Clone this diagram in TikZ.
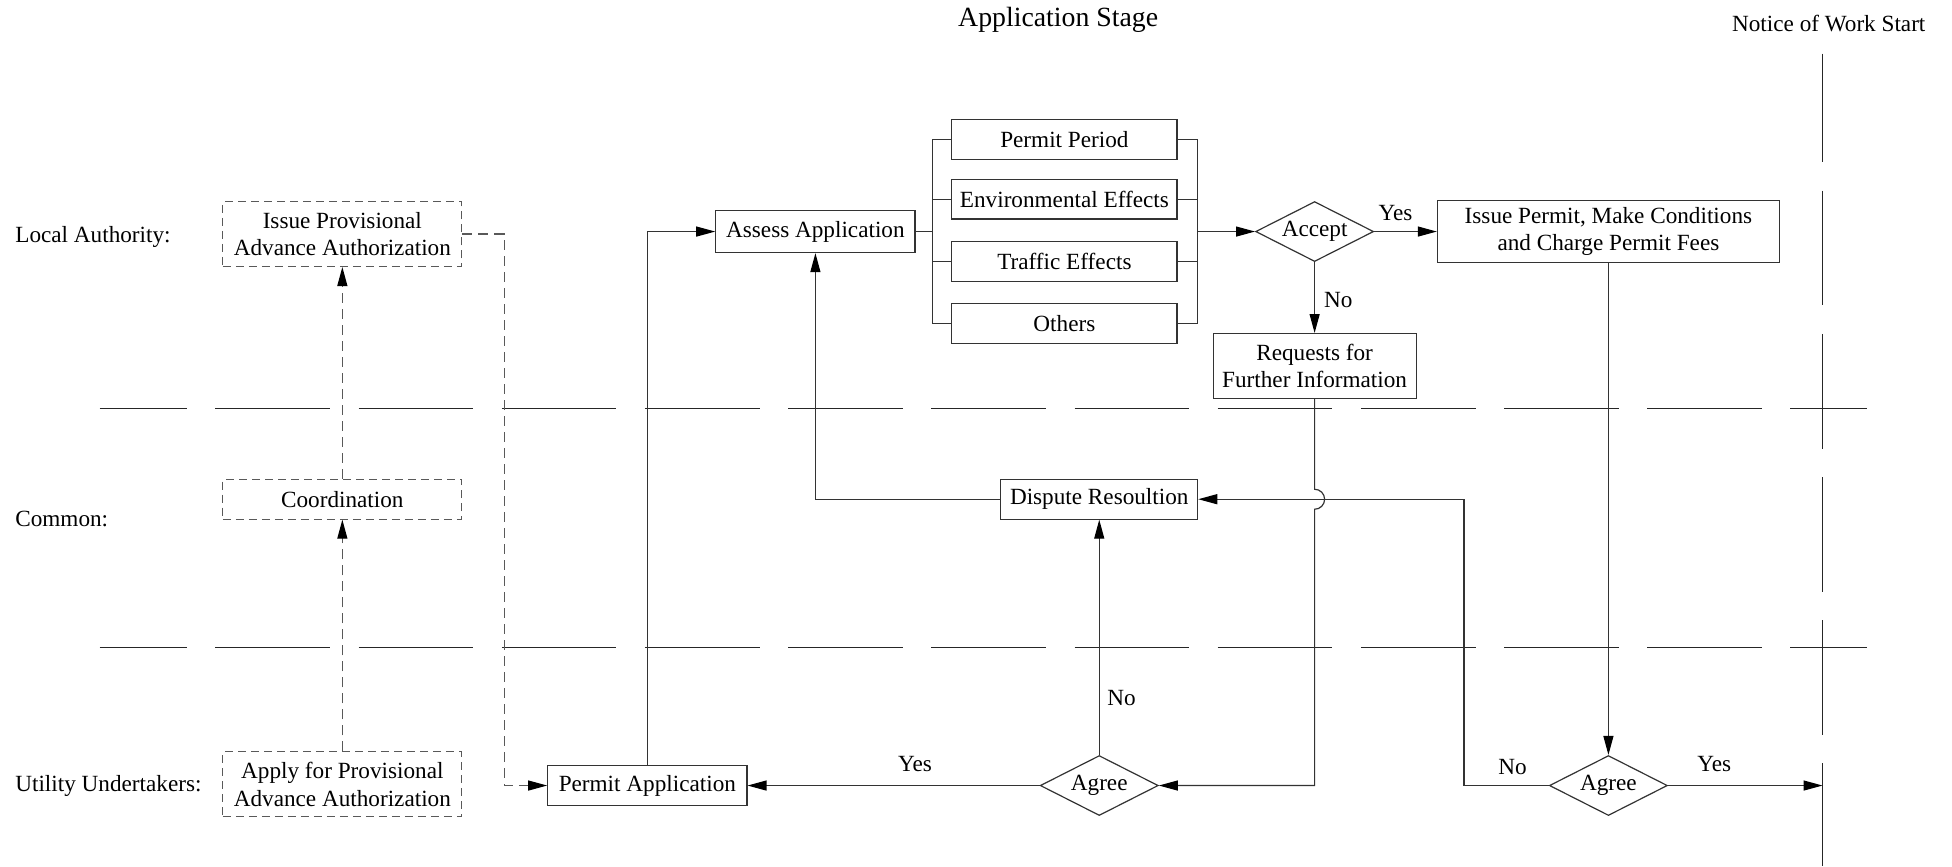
\documentclass[tikz,border=0pt]{standalone}
\usepackage{fontspec}
\setmainfont{Liberation Serif}
\usetikzlibrary{shapes.geometric,arrows.meta,calc}

\begin{document}
\begin{tikzpicture}[x=0.6225pt,y=-0.6225pt,
  every node/.style={font=\fontsize{11.6}{13.7}\selectfont},
  box/.style={draw=black!80, line width=0.6pt, rectangle, inner sep=0pt, align=center, minimum height=19.9pt},
  dbox/.style={box, draw=black!65, dash pattern=on 4pt off 2.5pt, minimum width=119.5pt},
  dec/.style={draw=black!80, line width=0.6pt, diamond, shape aspect=2, inner sep=0pt, minimum width=59pt, minimum height=30pt},
  tip/.style={-{Triangle[length=9.5pt,width=5pt,color=black]}},
  link/.style={draw=black!80, line width=0.6pt},
  arr/.style={link, tip},
  dlink/.style={link, draw=black!65, dash pattern=on 5pt off 3pt},
  lane/.style={draw=black!85, line width=0.6pt, dash pattern=on 57.3pt off 14.3pt},
  lbl/.style={inner sep=0pt}
]
\useasboundingbox (0,0) rectangle (1568,696);

% headings
\node[lbl, font=\fontsize{13.9}{16}\selectfont] (title) at (850,16) {Application Stage};
\node[lbl] (notice) at (1469,19) {Notice of Work Start};

% lane names
\node[lbl, anchor=west] (la) at (12,190) {Local Authority:};
\node[lbl, anchor=west] (cm) at (12,417) {Common:};
\node[lbl, anchor=west] (uu) at (12,631) {Utility Undertakers:};

% lane borders and work-start line
\draw[lane, dash phase=13.7pt] (80,328) -- (1500,328);
\draw[lane, dash phase=13.7pt] (80,520) -- (1500,520);
\draw[lane, dash phase=3pt] (1464,43) -- (1464,696);
\coordinate (ws) at (1464,631);

% provisional advance authorization
\node[dbox, minimum height=32.4pt] (IPA) at (275,188) {Issue Provisional\\Advance Authorization};
\node[dbox] (CO) at (275,401) {Coordination};
\node[dbox, minimum height=32.4pt] (APA) at (275,630) {Apply for Provisional\\Advance Authorization};

% application
\node[box, minimum width=99.6pt] (PA) at (520,631) {Permit Application};
\node[box, minimum width=99.6pt, minimum height=21pt] (AA) at (655,186) {Assess Application};
\node[box, minimum width=112.7pt] (PP) at (855,112) {Permit Period};
\node[box, minimum width=112.7pt] (EE) at (855,160) {Environmental Effects};
\node[box, minimum width=112.7pt] (TE) at (855,210) {Traffic Effects};
\node[box, minimum width=112.7pt] (OT) at (855,260) {Others};
\node[dec] (AC) at (1056,186) {Accept};
\node[box, minimum width=171pt, minimum height=31pt] (IP) at (1292,186) {Issue Permit, Make Conditions\\and Charge Permit Fees};
\node[box, minimum width=101.5pt, minimum height=32.4pt] (RF) at (1056,294) {Requests for\\Further Information};
\node[box, minimum width=98.4pt] (DR) at (883,401) {Dispute Resoultion};
\node[dec] (AG1) at (883,631) {Agree};
\node[dec] (AG2) at (1292,631) {Agree};

% dashed flow
\draw[dlink, tip] (APA.north) -- (CO.south);
\draw[dlink, tip] (CO.north) -- (IPA.south);
\coordinate (dj) at (405,631);
\draw[dlink, tip] (IPA.east) -| (dj) -- (PA.west);

% assessment
\draw[arr] (PA.north) |- (AA.west);
\coordinate (bl) at (749,186);
\coordinate (br) at (962,186);
\draw[link] (AA.east) -- (bl);
\draw[link] (PP.west) -| (bl) |- (OT.west);
\draw[link] (EE.west) -- (EE.west -| bl);
\draw[link] (TE.west) -- (TE.west -| bl);
\draw[link] (PP.east) -| (br) |- (OT.east);
\draw[link] (EE.east) -- (EE.east -| br);
\draw[link] (TE.east) -- (TE.east -| br);
\draw[arr] (br) -- (AC.west);
\draw[arr] (AC.east) -- (IP.west);
\node[lbl] (y1) at (1121,171) {Yes};
\draw[arr] (AC.south) -- (RF.north);
\node[lbl] (n1) at (1075,241) {No};

% further information, with a jump over the dispute line
\draw[arr] (RF.south) -- ($(RF.south |- DR.east)+(0,-8)$)
  arc[start angle=90, end angle=-90, radius=5pt] |- (AG1.east);
\draw[arr] (AG1.west) -- (PA.east);
\node[lbl] (y2) at (735,614) {Yes};
\draw[arr] (AG1.north) -- (DR.south);
\node[lbl] (n2) at (901,561) {No};
\draw[arr] (DR.west) -| (AA.south);

% permit issued
\draw[arr] (IP.south) -- (AG2.north);
\coordinate (nc) at (1176,401);
\draw[arr] (AG2.west) -| (nc) -- (DR.east);
\node[lbl] (n3) at (1215,616) {No};
\draw[arr] (AG2.east) -- (ws);
\node[lbl] (y3) at (1377,614) {Yes};
\end{tikzpicture}
\end{document}
